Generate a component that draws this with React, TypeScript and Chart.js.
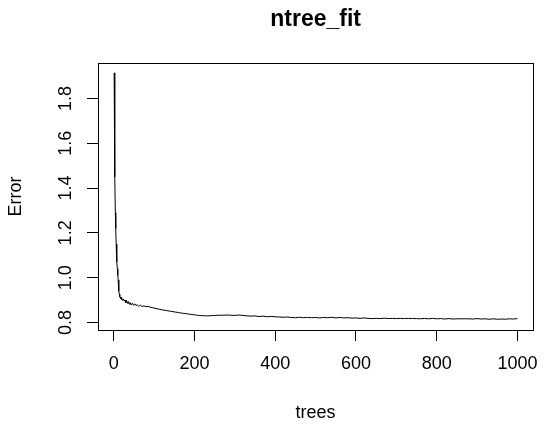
import React, { useEffect, useRef } from "react";
import { Chart, registerables } from "chart.js";

Chart.register(...registerables);

const trees: number[] = [
  1, 2, 3, 4, 5, 6, 7, 8, 9, 10, 11, 12, 13, 14, 15, 16, 17, 18, 19, 20,
  22, 24, 26, 28, 30, 32, 34, 36, 38, 40, 43, 46, 49, 52, 55, 58, 62, 66, 70, 75,
  80, 85, 90, 95, 100, 110, 120, 130, 140, 150, 160, 170, 180, 190, 200, 210, 220, 230, 240, 250,
  260, 270, 280, 290, 300, 310, 320, 330, 340, 350, 360, 370, 380, 390, 400, 410, 420, 430, 440, 450,
  460, 470, 480, 490, 500, 510, 520, 530, 540, 550, 560, 570, 580, 590, 600, 610, 620, 630, 640, 650,
  660, 670, 680, 690, 700, 710, 720, 730, 740, 750, 760, 770, 780, 790, 800, 810, 820, 830, 840, 850,
  860, 870, 880, 890, 900, 910, 920, 930, 940, 950, 960, 970, 980, 990, 1000,
];

const errorValues: number[] = [
  1.915, 1.74, 1.45, 1.29, 1.22, 1.15, 1.12, 1.07, 1.04, 1.01, 0.99, 0.96, 0.94, 0.925, 0.915, 0.91, 0.905, 0.912, 0.902, 0.908,
  0.898, 0.905, 0.895, 0.9, 0.888, 0.897, 0.885, 0.893, 0.882, 0.889, 0.878, 0.886, 0.876, 0.883, 0.875, 0.879, 0.872, 0.877, 0.871, 0.874,
  0.87, 0.872, 0.868, 0.866, 0.864, 0.86, 0.856, 0.853, 0.85, 0.847, 0.844, 0.841, 0.839, 0.836, 0.834, 0.831, 0.83, 0.829, 0.83, 0.831,
  0.832, 0.832, 0.833, 0.832, 0.831, 0.833, 0.831, 0.829, 0.828, 0.829, 0.826, 0.828, 0.825, 0.827, 0.825, 0.824, 0.823, 0.824, 0.822, 0.821,
  0.823, 0.821, 0.822, 0.821, 0.822, 0.82, 0.822, 0.821, 0.823, 0.82, 0.822, 0.82, 0.821, 0.819, 0.82, 0.818, 0.82, 0.818, 0.817, 0.818,
  0.817, 0.819, 0.817, 0.818, 0.817, 0.818, 0.817, 0.818, 0.817, 0.817, 0.816, 0.818, 0.816, 0.818, 0.816, 0.817, 0.815, 0.817, 0.815, 0.816,
  0.816, 0.816, 0.816, 0.815, 0.817, 0.815, 0.816, 0.814, 0.816, 0.814, 0.815, 0.814, 0.816, 0.815, 0.817,
];

const xTicks: number[] = [0, 200, 400, 600, 800, 1000];
const yTicks: number[] = [0.8, 1.0, 1.2, 1.4, 1.6, 1.8];

const titleText = "ntree_fit";
const xLabel = "trees";
const yLabel = "Error";

const FONT = "'Liberation Sans', Arial, sans-serif";

export default function App() {
  const ref = useRef<HTMLCanvasElement | null>(null);

  useEffect(() => {
    if (!ref.current) return;
    const overlay = {
      id: "rOverlay",
      afterDraw(chart: any) {
        const ctx = chart.ctx;
        const a = chart.chartArea;
        ctx.save();
        ctx.strokeStyle = "#000";
        ctx.lineWidth = 1;
        ctx.strokeRect(Math.round(a.left) + 0.5, Math.round(a.top) + 0.5, Math.round(a.right - a.left), Math.round(a.bottom - a.top));
        ctx.fillStyle = "#000";
        ctx.textAlign = "center";
        ctx.textBaseline = "middle";
        ctx.font = `bold 23px ${FONT}`;
        ctx.fillText(titleText, (a.left + a.right) / 2, 20);
        ctx.font = `18px ${FONT}`;
        ctx.fillText(xLabel, (a.left + a.right) / 2, 413);
        ctx.translate(16, (a.top + a.bottom) / 2);
        ctx.rotate(-Math.PI / 2);
        ctx.fillText(yLabel, 0, 0);
        ctx.restore();
      },
    };

    const chart = new Chart(ref.current, {
      type: "scatter",
      data: {
        datasets: [
          {
            data: trees.map((t, i) => ({ x: t, y: errorValues[i] })),
            showLine: true,
            borderColor: "#000",
            borderWidth: 1,
            pointRadius: 0,
            tension: 0,
          },
        ],
      },
      options: {
        responsive: false,
        animation: false,
        devicePixelRatio: 1,
        layout: { padding: { top: 63, right: 15, left: 0, bottom: 0 } },
        plugins: { legend: { display: false }, tooltip: { enabled: false }, title: { display: false } },
        scales: {
          x: {
            type: "linear",
            min: -39,
            max: 1039,
            afterBuildTicks: (s: any) => {
              s.ticks = xTicks.map((v) => ({ value: v }));
            },
            afterFit: (s: any) => {
              s.height = 98;
            },
            border: { display: false },
            grid: { display: true, drawOnChartArea: false, drawTicks: true, tickLength: 11, color: "#000", lineWidth: 1 },
            ticks: {
              color: "#000",
              font: { family: FONT, size: 18 },
              padding: 12,
              maxRotation: 0,
              autoSkip: false,
              callback: (v: any) => String(v),
            },
          },
          y: {
            type: "linear",
            min: 0.766,
            max: 1.959,
            afterBuildTicks: (s: any) => {
              s.ticks = yTicks.map((v) => ({ value: v }));
            },
            afterFit: (s: any) => {
              s.width = 98;
            },
            border: { display: false },
            grid: { display: true, drawOnChartArea: false, drawTicks: true, tickLength: 11, color: "#000", lineWidth: 1 },
            ticks: {
              color: "#000",
              font: { family: FONT, size: 18 },
              padding: 8,
              minRotation: 90,
              maxRotation: 90,
              crossAlign: "center",
              autoSkip: false,
              callback: (v: any) => Number(v).toFixed(1),
            },
          },
        },
      },
      plugins: [overlay],
    } as any);
    return () => chart.destroy();
  }, []);

  return (
    <div style={{ position: "fixed", left: 0, top: 0, width: 550, height: 428, background: "#fff" }}>
      <canvas ref={ref} width={550} height={428} style={{ width: 550, height: 428 }} />
    </div>
  );
}
